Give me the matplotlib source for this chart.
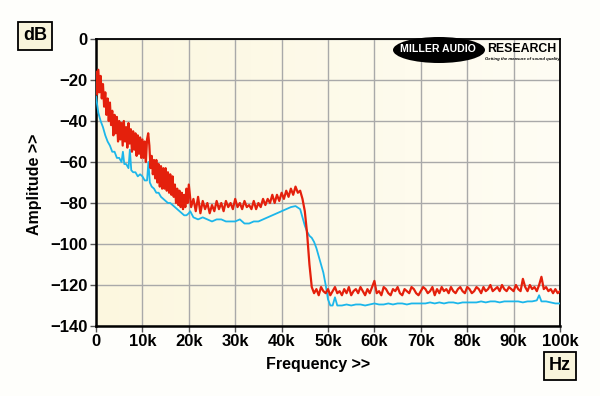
import numpy as np
import matplotlib.pyplot as plt
from matplotlib.patches import Ellipse
from matplotlib.colors import LinearSegmentedColormap

RED_STEP_LOW = 0.25   # kHz, 0 .. 19.75
red_low_db = [
    -16, -27, -15, -26, -18, -29, -22, -33, -26, -37, -29, -40, -31, -42, -35, -47,
    -37, -46, -38, -50, -40, -49, -41, -52, -40, -50, -43, -53, -41, -51, -44, -55,
    -45, -54, -46, -57, -47, -56, -48, -58, -49, -58, -50, -60, -49, -46, -52, -63,
    -57, -66, -59, -68, -59, -70, -61, -72, -62, -73, -63, -73, -63, -74, -65, -75,
    -66, -76, -67, -77, -71, -80, -73, -81, -74, -82, -75, -83, -76, -82, -73, -80,
]
RED_STEP_MID = 0.5    # kHz, 20 .. 46.5
red_mid_db = [
    -71, -82, -78, -84, -77, -85, -79, -83, -80, -85, -81, -84, -79, -83, -80, -84,
    -79, -82, -80, -83, -78, -82, -80, -83, -79, -82, -81, -83, -79, -83, -80, -82,
    -78, -81, -78, -80, -76, -80, -76, -79, -75, -78, -74, -77, -73, -76, -72, -75,
    -74, -78, -84, -95, -110, -121,
]
RED_STEP_HIGH = 0.5   # kHz, 47 .. 100
red_high_db = [
    -124, -122, -125, -121, -123, -124, -122, -125, -123, -121, -124, -123, -125, -122,
    -124, -121, -125, -123, -122, -124, -121, -123, -125, -122, -124, -121, -118, -124,
    -123, -125, -121, -122, -124, -125, -122, -123, -121, -124, -125, -122, -123, -124,
    -121, -122, -124, -125, -123, -121, -122, -124, -123, -121, -125, -122, -124, -121,
    -123, -122, -124, -121, -123, -124, -122, -121, -123, -124, -121, -122, -124, -123,
    -121, -122, -124, -121, -123, -122, -120, -123, -122, -121, -123, -120, -122, -123,
    -121, -122, -123, -120, -122, -123, -117, -121, -123, -120, -122, -121, -123, -120,
    -116, -122, -121, -123, -122, -124, -122, -124, -123,
]

# Cyan trace
cyan_khz = [
    0, 0.5, 1, 1.5, 2, 2.5, 3, 3.5, 4, 4.5, 5, 5.5, 5.8, 6.1, 6.5, 7, 7.3, 7.6, 8,
    8.5, 9, 9.5, 10, 10.5, 11, 11.3, 11.6, 12, 12.5, 13, 13.5, 14, 14.5, 15, 15.5,
    16, 16.5, 17, 17.5, 18, 18.5, 19, 19.5, 20, 20.3, 21, 22, 23, 24, 25, 26, 27,
    28, 29, 30, 31, 32, 33, 34, 35, 36, 37, 38, 39, 40, 41, 42, 43, 44, 44.5, 45,
    45.5, 46, 46.5, 47, 47.5, 48, 48.5, 49, 49.5, 50, 50.5, 51, 51.5, 52, 53, 54,
    55, 56, 57, 58, 59, 60, 61, 62, 63, 64, 65, 66, 67, 68, 69, 70, 71, 72, 73,
    74, 75, 76, 77, 78, 79, 80, 81, 82, 83, 84, 85, 86, 87, 88, 89, 90, 91, 92,
    93, 94, 95, 95.5, 96, 97, 98, 99, 100,
]
cyan_db = [
    -28, -36, -40, -43, -47, -50, -52, -55, -55, -58, -58, -60, -55, -61, -61, -63,
    -54, -64, -65, -65, -67, -66, -67, -69, -69, -60, -70, -72, -73, -75, -75, -77,
    -78, -79, -80, -80, -81, -82, -83, -84, -85, -86, -86, -85, -84, -87, -88, -87,
    -88, -89, -88, -88, -89, -89, -89, -88, -90, -90, -89, -89, -88, -87, -86, -85,
    -84, -83, -82, -81.5, -83, -87, -91, -94, -96, -97, -99, -102, -106, -110, -114,
    -120, -127, -130, -130, -126, -130, -130, -129.5, -130, -129.5, -129.5, -130,
    -129.5, -129, -129.5, -129.5, -129, -129.5, -129, -129, -129.5, -129, -129, -129,
    -129, -128.5, -129, -128.5, -129, -128.5, -128.5, -129, -128.5, -128.5, -128.5,
    -128.5, -128, -128.5, -128, -128, -128.5, -128, -128, -128, -128, -128.5, -128,
    -128, -127.5, -125, -128, -128, -128.5, -129, -129,
]

x_ticks = [0, 10, 20, 30, 40, 50, 60, 70, 80, 90, 100]
x_labels = ['0', '10k', '20k', '30k', '40k', '50k', '60k', '70k', '80k', '90k', '100k']
y_ticks = [0, -20, -40, -60, -80, -100, -120, -140]

plt.rcParams['font.family'] = ['Liberation Sans', 'DejaVu Sans']
plt.rcParams['font.weight'] = 'bold'

red_khz = np.concatenate([
    np.arange(len(red_low_db)) * RED_STEP_LOW,
    20 + np.arange(len(red_mid_db)) * RED_STEP_MID,
    47 + np.arange(len(red_high_db)) * RED_STEP_HIGH,
])
red_db = red_low_db + red_mid_db + red_high_db

fig = plt.figure(figsize=(6, 3.96), dpi=100, facecolor='#fefefb')
ax = fig.add_axes([96 / 600, 1 - 326 / 396, 464 / 600, 287 / 396])

# pale yellow gradient behind the plot
grad = np.linspace(0, 1, 256).reshape(1, -1)
cream = LinearSegmentedColormap.from_list('cream', ['#fcf7df', '#fffdf4'])
ax.imshow(grad, cmap=cream, extent=[0, 100, -140, 0], aspect='auto', zorder=0)

ax.plot(cyan_khz, cyan_db, color='#1cb6ea', lw=1.3, zorder=3)
ax.plot(red_khz, red_db, color='#e4200c', lw=1.6, zorder=4)

ax.set_xlim(0, 100)
ax.set_ylim(-140, 0)
ax.set_xticks(x_ticks)
ax.set_xticklabels(x_labels)
ax.set_yticks(y_ticks)
ax.grid(True, color='#a9a9a9', lw=1.0, zorder=1)
ax.set_axisbelow(True)
ax.tick_params(direction='out', length=4, width=1, color='#555555', pad=2,
               labelsize=12)
for lab in ax.get_xticklabels() + ax.get_yticklabels():
    lab.set_fontweight('bold')
for side in ['left', 'bottom']:
    ax.spines[side].set_linewidth(1.8)
for side in ['top', 'right']:
    ax.spines[side].set_linewidth(1.3)

fig.text(35 / 600, 1 - 184 / 396, 'Amplitude >>', rotation=90, ha='center', va='center',
         fontsize=11.5, fontweight='bold')
fig.text(318 / 600, 1 - 365 / 396, 'Frequency >>', ha='center', va='center',
         fontsize=11.5, fontweight='bold')

box = dict(boxstyle='square,pad=0.3', facecolor='#f8f4dc', edgecolor='black', lw=1.3)
fig.text(35 / 600, 1 - 36 / 396, 'dB', ha='center', va='center', fontsize=13,
         fontweight='bold', bbox=box)
fig.text(560 / 600, 1 - 366 / 396, 'Hz', ha='center', va='center', fontsize=13,
         fontweight='bold', bbox=box)

# logo
logo = Ellipse((439 / 600, 1 - 50 / 396), 92 / 600, 26 / 396, transform=fig.transFigure,
               facecolor='black', edgecolor='none', zorder=10)
fig.patches.append(logo)
fig.text(438 / 600, 1 - 49 / 396, 'MILLER AUDIO', ha='center', va='center', color='white',
         fontsize=7.6, fontweight='heavy', zorder=11)
fig.text(522 / 600, 1 - 49 / 396, 'RESEARCH', ha='center', va='center', color='black',
         fontsize=8.8, fontweight='heavy', zorder=11)
fig.text(522 / 600, 1 - 59 / 396, 'Getting the measure of sound quality', ha='center',
         va='center', color='black', fontsize=3.1, fontstyle='italic', zorder=11)

fig.savefig('out.png', dpi=100, facecolor=fig.get_facecolor())
